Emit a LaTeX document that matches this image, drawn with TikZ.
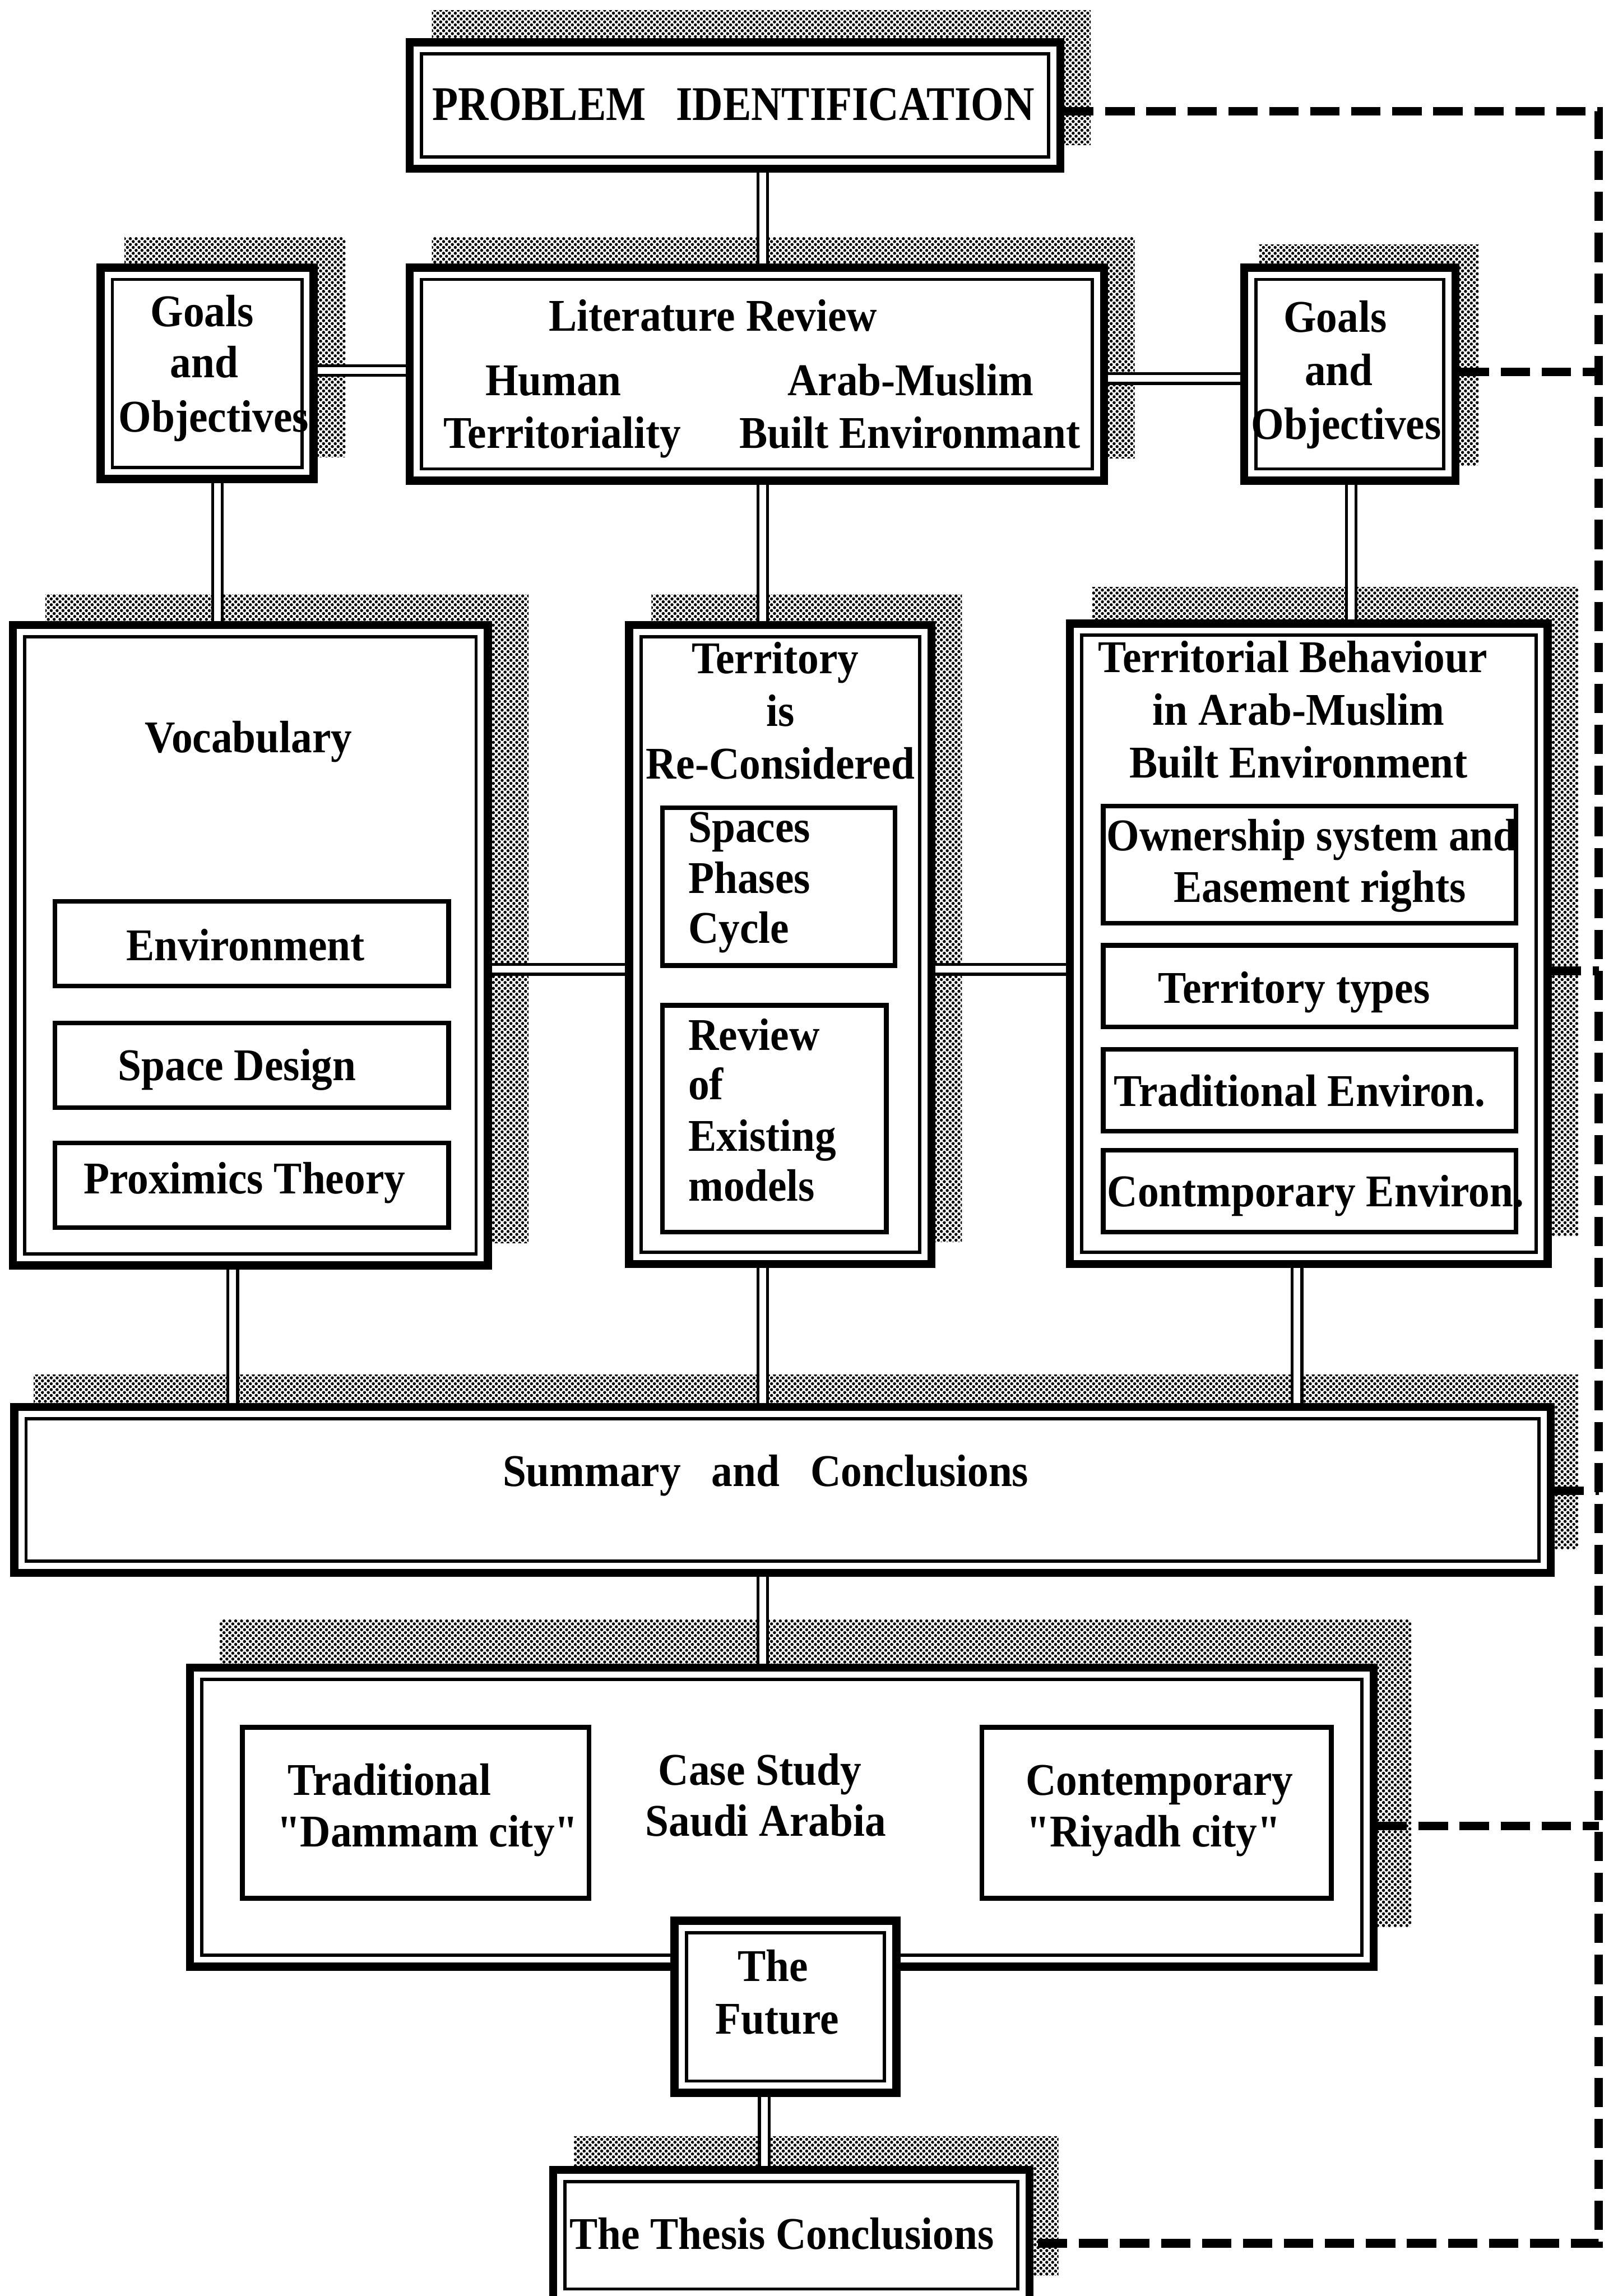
\documentclass[tikz,border=0pt]{standalone}
\usepackage{fontspec}
\setmainfont{Liberation Serif}[FakeStretch=0.93, Ligatures=TeXOff]
\usetikzlibrary{patterns}
\pgfdeclarelayer{shade}
\pgfdeclarelayer{links}
\pgfsetlayers{shade,links,main}

% fine dot screen used for the drop shadows
\pgfdeclarepatternformonly{stipple}{\pgfpoint{-0.5pt}{-0.5pt}}{\pgfpoint{4.5pt}{4.5pt}}{\pgfpoint{4pt}{4pt}}{%
  \pgfpathcircle{\pgfpoint{1pt}{1pt}}{1.05pt}%
  \pgfpathcircle{\pgfpoint{3pt}{3pt}}{1.05pt}%
  \pgfusepath{fill}}

\tikzset{
  % heavy framed box with a thin inner rule
  bigbox/.style 2 args={draw, fill=white, line width=5.6pt, outer sep=2.8pt, inner sep=0pt,
    minimum width={#1-5.6}, minimum height={#2-5.6},
    path picture={\draw[line width=2.2pt]
      ([shift={(8,8)}]path picture bounding box.north west) rectangle
      ([shift={(-8,-8)}]path picture bounding box.south east);}},
  % plain box nested inside a big box
  subbox/.style 2 args={draw, fill=white, line width=3.2pt, outer sep=1.6pt, inner sep=0pt,
    minimum width={#1-3.2}, minimum height={#2-3.2}},
  shadowfill/.style={pattern=stipple, pattern color=black},
  link/.style={line width=2pt, double=white, double distance=4.6pt},
  dashlink/.style={line width=5.8pt, dash pattern=on 20pt off 8pt},
  lbl/.style={anchor=base, inner sep=0pt, font=\fontsize{31}{35}\selectfont\bfseries},
  lblw/.style={lbl, anchor=base west}
}
\newcommand\castshadow[3]{\fill[shadowfill] ([shift={(#2,-#3)}]#1.north west) rectangle ([shift={(#2,-#3)}]#1.south east);}

\begin{document}
\begin{tikzpicture}[x=1pt, y=-1pt]
\useasboundingbox (0,0) rectangle (1105,1568);

% ---------- main boxes ----------
\node[bigbox={450}{92}]  (pi)     at (502,72) {};
\node[bigbox={151}{150}] (goalsL) at (141.5,255) {};
\node[bigbox={480}{151}] (lit)    at (517,255.5) {};
\node[bigbox={150}{151}] (goalsR) at (922,255.5) {};
\node[bigbox={330}{443}] (vocab)  at (171,645.5) {};
\node[bigbox={212}{442}] (terr)   at (533,645) {};
\node[bigbox={332}{443}] (behav)  at (894,644.5) {};
\node[bigbox={1055}{119}] (summ)  at (534.5,1017.5) {};
\node[bigbox={814}{210}] (case)   at (534,1241) {};
\node[bigbox={157}{123}] (future) at (536.5,1370.5) {};
\node[bigbox={331}{95}]  (thesis) at (540.5,1526.5) {};

% ---------- nested boxes ----------
\node[subbox={272}{61}]  (env)    at (172,644.5) {};
\node[subbox={272}{61}]  (space)  at (172,727.5) {};
\node[subbox={272}{61}]  (prox)   at (172,809.5) {};
\node[subbox={162}{111}] (phases) at (532,605.5) {};
\node[subbox={156}{158}] (models) at (529,764) {};
\node[subbox={285}{83}]  (owner)  at (894.5,590.5) {};
\node[subbox={285}{59}]  (types)  at (894.5,673.5) {};
\node[subbox={285}{59}]  (tradE)  at (894.5,744.5) {};
\node[subbox={285}{59}]  (contE)  at (894.5,813.5) {};
\node[subbox={240}{120}] (dammam) at (284,1238) {};
\node[subbox={242}{120}] (riyadh) at (790,1238) {};

% ---------- texts ----------
\node[lbl, font=\fontsize{33}{36}\selectfont\bfseries] (tPI) at (501,82)
  {\scalebox{0.94}[1]{PROBLEM\hspace{22pt}IDENTIFICATION}};

\node[lbl] (tGL1) at (138,223) {Goals};
\node[lbl] (tGL2) at (139.5,258) {and};
\node[lbl] (tGL3) at (146,295) {Objectives};

\node[lbl] (tLit)  at (487,226) {Literature Review};
\node[lbl] (tHum1) at (378,270) {Human};
\node[lbl] (tHum2) at (384,306) {Territoriality};
\node[lbl] (tAM1)  at (622,270) {Arab-Muslim};
\node[lbl] (tAM2)  at (621.5,306) {Built Environmant};

\node[lbl] (tGR1) at (912,227) {Goals};
\node[lbl] (tGR2) at (914.5,263) {and};
\node[lbl] (tGR3) at (919.5,300) {Objectives};

\node[lbl] (tVoc)  at (169.7,514) {Vocabulary};
\node[lbl] (tEnv)  at (167.6,656) {Environment};
\node[lbl] (tSpc)  at (162,738) {Space Design};
\node[lbl] (tProx) at (167,815) {Proximics Theory};

\node[lbl] (tT1) at (529.5,460) {Territory};
\node[lbl] (tT2) at (533,496) {is};
\node[lbl] (tT3) at (533,532) {Re-Considered};
\node[lblw] (tS1) at (470,575) {Spaces};
\node[lblw] (tS2) at (470,610) {Phases};
\node[lblw] (tS3) at (470,644) {Cycle};
\node[lblw] (tR1) at (470,717) {Review};
\node[lblw] (tR2) at (470,751) {of};
\node[lblw] (tR3) at (470,786) {Existing};
\node[lblw] (tR4) at (470,820) {models};

\node[lbl] (tB1) at (883,459) {Territorial Behaviour};
\node[lbl] (tB2) at (887,495) {in Arab-Muslim};
\node[lbl] (tB3) at (887,531) {Built Environment};
\node[lbl] (tO1) at (896,581) {Ownership system and};
\node[lbl] (tO2) at (901.5,616) {Easement rights};
\node[lbl] (tTy) at (884,685) {Territory types};
\node[lbl] (tTr) at (887.6,755.6) {Traditional Environ.};
\node[lbl] (tCo) at (898.6,824) {Contmporary Environ.};

\node[lbl] (tSum) at (523,1015) {Summary\hspace{21pt}and\hspace{21pt}Conclusions};

\node[lbl] (tD1) at (266,1226) {Traditional};
\node[lbl] (tD2) at (292,1261) {"Dammam city"};
\node[lbl] (tC1) at (519,1219) {Case Study};
\node[lbl] (tC2) at (523,1254) {Saudi Arabia};
\node[lbl] (tY1) at (792,1226) {Contemporary};
\node[lbl] (tY2) at (788,1261) {"Riyadh city"};

\node[lbl] (tF1) at (528,1353) {The};
\node[lbl] (tF2) at (531,1389) {Future};

\node[lbl] (tTh) at (534,1536) {The Thesis Conclusions};

% ---------- connector positions ----------
\coordinate (cMid) at (521,0);
\coordinate (cGL)  at (148.5,0);
\coordinate (cGR)  at (923,0);
\coordinate (cVS)  at (159,0);
\coordinate (cBS)  at (886,0);
\coordinate (cFT)  at (522,0);
\coordinate (rGL)  at (0,253);
\coordinate (rGR)  at (0,258.5);
\coordinate (rMid) at (0,662);

\coordinate (busTop)   at (1092,76);
\coordinate (busGoals) at (1092,254);
\coordinate (busBeh)   at (1092,663);
\coordinate (busSum)   at (1092,1018);
\coordinate (busCase)  at (1092,1247);
\coordinate (busEnd)   at (1092,1532);

% ---------- double-rule connectors ----------
\begin{pgfonlayer}{links}
\draw[link] (pi.south -| cMid) -- (lit.north -| cMid);
\draw[link] (goalsL.east |- rGL) -- (lit.west |- rGL);
\draw[link] (lit.east |- rGR) -- (goalsR.west |- rGR);
\draw[link] (goalsL.south -| cGL) -- (vocab.north -| cGL);
\draw[link] (lit.south -| cMid) -- (terr.north -| cMid);
\draw[link] (goalsR.south -| cGR) -- (behav.north -| cGR);
\draw[link] (vocab.east |- rMid) -- (terr.west |- rMid);
\draw[link] (terr.east |- rMid) -- (behav.west |- rMid);
\draw[link] (vocab.south -| cVS) -- (summ.north -| cVS);
\draw[link] (terr.south -| cMid) -- (summ.north -| cMid);
\draw[link] (behav.south -| cBS) -- (summ.north -| cBS);
\draw[link] (summ.south -| cMid) -- (case.north -| cMid);
\draw[link] (future.south -| cFT) -- (thesis.north -| cFT);

% dashed feedback bus on the right
\draw[dashlink] (pi.east |- busTop) -- (busTop) -- (busEnd) -- (thesis.east |- busEnd);
\draw[dashlink] (goalsR.east |- busGoals) -- (busGoals);
\draw[dashlink] (behav.east |- busBeh) -- (busBeh);
\draw[dashlink] (summ.east |- busSum) -- (busSum);
\draw[dashlink] (case.east |- busCase) -- (busCase);
\end{pgfonlayer}

% ---------- stippled drop shadows ----------
\begin{pgfonlayer}{shade}
\fill[white] (0,0) rectangle (1105,1568);
\castshadow{pi}{18}{19}
\castshadow{goalsL}{19}{18}
\castshadow{lit}{18}{18}
\castshadow{goalsR}{13}{13}
\castshadow{vocab}{25}{18}
\castshadow{terr}{18}{18}
\castshadow{behav}{18}{22}
\castshadow{summ}{16}{19}
\castshadow{case}{23}{30}
\castshadow{thesis}{17}{20}
\end{pgfonlayer}
\end{tikzpicture}
\end{document}
